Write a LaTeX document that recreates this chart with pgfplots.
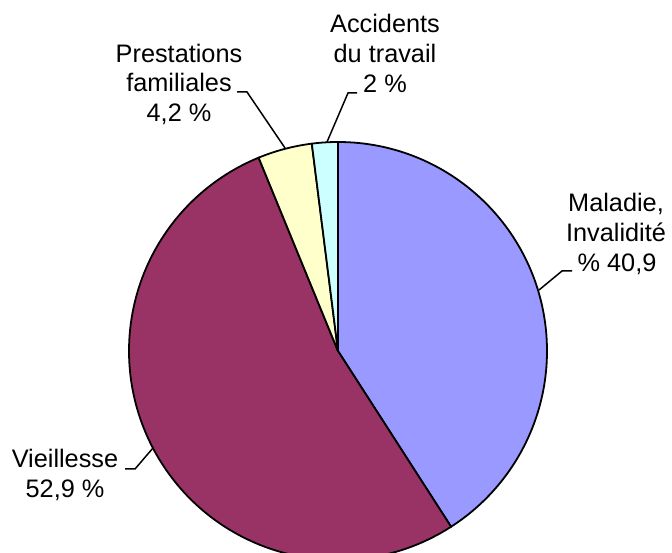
\documentclass[border=0pt]{standalone}
\usepackage{pgfplots}
\pgfplotsset{compat=1.18}
\usepackage{fontspec}
\setmainfont{Liberation Sans}
\definecolor{cMal}{HTML}{9999FF}
\definecolor{cVie}{HTML}{993366}
\definecolor{cPre}{HTML}{FFFFCC}
\definecolor{cAcc}{HTML}{CCFFFF}
\tikzset{lbl/.style={font=\fontsize{25.3}{29}\selectfont, anchor=base, inner sep=0pt}}

% one slice of the pie, clockwise from the current angle
\def\curang{90}
\newcommand\slice[2]{%
  \pgfmathsetmacro\endang{\curang-3.6*#1}%
  \edef\tmp{\noexpand\filldraw[fill=#2,draw=black,line width=1.8pt,line join=round]
    (axis cs:338,202) -- ++(\curang:209pt)
    arc[start angle=\curang,end angle=\endang,radius=209pt] -- cycle;}%
  \tmp
  \global\let\curang\endang}

\begin{document}
\begin{tikzpicture}
\begin{axis}[
  x=1pt, y=1pt,
  xmin=0, xmax=672, ymin=0, ymax=553,
  hide axis,
  clip=true,
]
% shares in %
\slice{40.9}{cMal}
\slice{52.9}{cVie}
\slice{4.2}{cPre}
\slice{2}{cAcc}

% leader lines
\draw[line width=1.5pt] (axis cs:237,461) -- (axis cs:247,461) -- (axis cs:285,405);
\draw[line width=1.5pt] (axis cs:357,460) -- (axis cs:348,460) -- (axis cs:327,411);
\draw[line width=1.5pt] (axis cs:572,282) -- (axis cs:562,282) -- (axis cs:539,263);
\draw[line width=1.5pt] (axis cs:125,84) -- (axis cs:135,84) -- (axis cs:153,105);

% labels
\node[lbl] at (axis cs:179,490) {Prestations};
\node[lbl] at (axis cs:179,461) {familiales};
\node[lbl] at (axis cs:179,431) {4,2 \%};

\node[lbl] at (axis cs:385,520) {Accidents};
\node[lbl] at (axis cs:385,490) {du travail};
\node[lbl] at (axis cs:385,460) {2 \%};

\node[lbl] at (axis cs:616,341) {Maladie,};
\node[lbl] at (axis cs:616,311) {Invalidité};
\node[lbl] at (axis cs:617,281) {\% 40,9};

\node[lbl] at (axis cs:65,85) {Vieillesse};
\node[lbl] at (axis cs:65,55) {52,9 \%};
\end{axis}
\pgfresetboundingbox
\useasboundingbox (0,0) rectangle (672pt,553pt);
\end{tikzpicture}
\end{document}
